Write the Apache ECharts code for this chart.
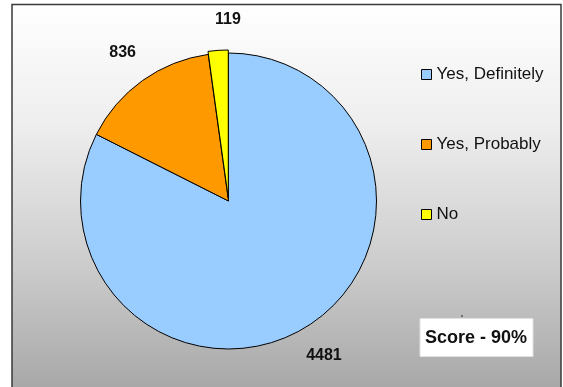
<!DOCTYPE html>
<html>
<head>
<meta charset="utf-8">
<script src="https://cdn.jsdelivr.net/npm/echarts@6/dist/echarts.min.js"></script>
<style>
  html, body { margin: 0; padding: 0; background: #ffffff; }
  #chart { width: 563px; height: 387px; }
</style>
</head>
<body>
<div id="chart"></div>
<script>
// Survey answers and their counts
const answers = ['Yes, Definitely', 'Yes, Probably', 'No'];
const counts = [4481, 836, 119];
const sliceColors = ['#99ccff', '#ff9900', '#ffff00'];
const scoreText = 'Score - 90%';

const PIE_CENTER = [228.5, 201];
const PIE_RADIUS = 148;
const LABEL_RADIUS = 179;   // value labels sit centred on this circle

const chart = echarts.init(document.getElementById('chart'), null, { renderer: 'canvas' });

const pieData = answers.map((name, i) => ({
  name: name,
  value: counts[i],
  selected: name === 'No',
  itemStyle: { color: sliceColors[i] }
}));

// Invisible ring whose "inside" labels fall on LABEL_RADIUS, centred on each slice's mid-angle
const labelData = answers.map((name, i) => ({
  name: name,
  value: counts[i],
  label: name === 'No' ? { padding: [12, 0, 0, 24] } : {}
}));

chart.setOption({
  animation: false,
  graphic: [
    {
      type: 'rect',
      z: -10,
      shape: { x: 12, y: 4.5, width: 549, height: 400 },
      style: {
        fill: new echarts.graphic.LinearGradient(0, 0, 0, 1, [
          { offset: 0, color: '#ffffff' },
          { offset: 0.3, color: '#eeeeee' },
          { offset: 0.65, color: '#cccccc' },
          { offset: 1, color: '#a3a3a3' }
        ]),
        stroke: '#3a3a3a',
        lineWidth: 1.5
      }
    },
    {
      type: 'rect',
      z: 10,
      shape: { x: 420, y: 318.5, width: 113, height: 38 },
      style: { fill: '#ffffff', stroke: '#e0e0e0', lineWidth: 1 }
    },
    {
      type: 'text',
      z: 11,
      x: 476,
      y: 338,
      style: {
        text: scoreText,
        fill: '#111111',
        font: 'bold 18px "Liberation Sans", Arial, sans-serif',
        align: 'center',
        verticalAlign: 'middle'
      }
    },
    {
      type: 'rect',
      z: 10,
      shape: { x: 461.5, y: 315, width: 1, height: 2 },
      style: { fill: '#222222' }
    }
  ],
  legend: {
    orient: 'vertical',
    left: 421,
    top: 66,
    padding: 0,
    itemWidth: 10,
    itemHeight: 10,
    itemGap: 53,
    icon: 'rect',
    itemStyle: { borderColor: '#000000', borderWidth: 1 },
    textStyle: {
      fontFamily: '"Liberation Sans", Arial, sans-serif',
      fontSize: 17,
      color: '#111111',
      lineHeight: 16
    },
    data: answers
  },
  series: [
    {
      type: 'pie',
      center: PIE_CENTER,
      radius: PIE_RADIUS,
      startAngle: 90,
      clockwise: true,
      selectedMode: 'multiple',
      selectedOffset: 3,
      itemStyle: { borderColor: '#000000', borderWidth: 1 },
      emphasis: { disabled: true },
      label: { show: false },
      labelLine: { show: false },
      data: pieData
    },
    {
      type: 'pie',
      center: PIE_CENTER,
      radius: [0, LABEL_RADIUS * 2],
      startAngle: 90,
      clockwise: true,
      silent: true,
      selectedMode: false,
      legendHoverLink: false,
      itemStyle: { color: 'rgba(0,0,0,0)', borderWidth: 0 },
      emphasis: { disabled: true },
      label: {
        show: true,
        position: 'inside',
        formatter: '{c}',
        fontFamily: '"Liberation Sans", Arial, sans-serif',
        fontWeight: 'bold',
        fontSize: 16,
        color: '#111111'
      },
      labelLine: { show: false },
      data: labelData
    }
  ]
});
</script>
</body>
</html>
